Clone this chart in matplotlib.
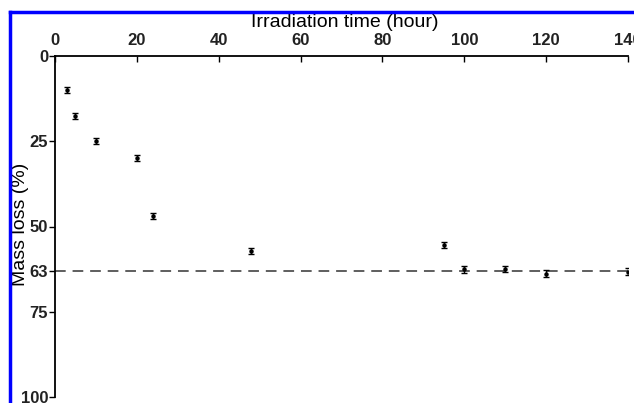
import matplotlib
matplotlib.use("Agg")
import matplotlib.pyplot as plt
from matplotlib.lines import Line2D

plt.rcParams['font.family'] = ['Liberation Sans', 'DejaVu Sans']

time_h = [3, 5, 10, 20, 24, 48, 95, 100, 110, 120, 140]
mass_loss = [10, 17.6, 25, 30, 47, 57.3, 55.3, 62.6, 62.4, 63.8, 63.2]
err = [0.9, 0.9, 0.9, 0.9, 0.9, 0.9, 0.9, 0.9, 0.9, 0.9, 0.9]
x_ticks = [0, 20, 40, 60, 80, 100, 120, 140]
y_ticks = [0, 25, 50, 63, 75, 100]
ref_level = 63

fig = plt.figure(figsize=(6.34, 4.03), dpi=100)
W, H = 634, 403
ax = fig.add_axes([55 / W, 1 - 397 / H, (628 - 55) / W, (397 - 56) / H])

ax.errorbar(time_h, mass_loss, yerr=err, fmt='o', ms=2.2, color='black',
            ecolor='black', elinewidth=1.0, capsize=2.2, capthick=1.0, zorder=3)
ax.axhline(ref_level, color='#333333', lw=1.1, ls=(0, (7, 4.5)), zorder=2)

ax.set_xlim(0, 140)
ax.set_ylim(100, 0)
ax.xaxis.set_ticks_position('top')
ax.xaxis.set_label_position('top')
ax.set_xticks(x_ticks)
ax.set_yticks(y_ticks)
ax.tick_params(axis='x', direction='in', length=4, width=1, pad=6, labelsize=12)
ax.tick_params(axis='y', direction='out', length=4, width=1, pad=1, labelsize=12)
for lab in ax.get_xticklabels() + ax.get_yticklabels():
    lab.set_fontweight('bold')
    lab.set_color('#222222')

for s in ['right', 'bottom']:
    ax.spines[s].set_visible(False)
for s in ['top', 'left']:
    ax.spines[s].set_linewidth(1.3)

ax.set_xlabel('Irradiation time (hour)', fontsize=14)
ax.xaxis.set_label_coords(0.506, 1.086)
ax.set_ylabel('Mass loss (%)', fontsize=14)
ax.yaxis.set_label_coords(-0.045, 0.505)

# blue frame (left and top)
fig.add_artist(Line2D([10 / W, 10 / W], [0, 1 - 12 / H], transform=fig.transFigure,
                      color='#0000ff', lw=2.5))
fig.add_artist(Line2D([10 / W, 1], [1 - 12 / H, 1 - 12 / H], transform=fig.transFigure,
                      color='#0000ff', lw=2.5))

fig.savefig('out.png', dpi=100)
